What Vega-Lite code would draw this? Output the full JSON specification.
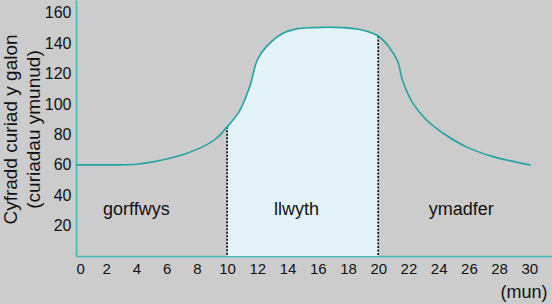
{
  "$schema": "https://vega.github.io/schema/vega-lite/v6.json",
  "width": 476,
  "height": 256,
  "autosize": {"type": "none"},
  "padding": {"left": 76, "top": 0, "right": 0, "bottom": 48},
  "background": "#cccccc",
  "config": {
    "view": {"stroke": null},
    "font": "Liberation Sans"
  },
  "datasets": {
    "curve": [
      {"min": 0, "bpm": 60}, {"min": 2, "bpm": 60}, {"min": 3, "bpm": 60}, {"min": 4, "bpm": 60.4},
      {"min": 5, "bpm": 61.8}, {"min": 6.2, "bpm": 64.3}, {"min": 7.3, "bpm": 67.5}, {"min": 8.4, "bpm": 72},
      {"min": 9.3, "bpm": 77.5}, {"min": 10, "bpm": 85}, {"min": 10.8, "bpm": 95}, {"min": 11.5, "bpm": 111.5},
      {"min": 12, "bpm": 129}, {"min": 12.6, "bpm": 137.8}, {"min": 13.7, "bpm": 146.6}, {"min": 14.6, "bpm": 149.5},
      {"min": 15.6, "bpm": 150.3}, {"min": 17.7, "bpm": 150.3}, {"min": 18.7, "bpm": 149.2}, {"min": 19.4, "bpm": 147.4},
      {"min": 20, "bpm": 144.8}, {"min": 20.7, "bpm": 137.8}, {"min": 21.3, "bpm": 127.9}, {"min": 21.6, "bpm": 115.9},
      {"min": 22.3, "bpm": 100.5}, {"min": 23.2, "bpm": 89.5}, {"min": 24.3, "bpm": 80.8}, {"min": 25.8, "bpm": 72},
      {"min": 27.6, "bpm": 65.4}, {"min": 30.1, "bpm": 59.9}
    ],
    "marks": [
      {"min": 10, "bpm": 85},
      {"min": 20, "bpm": 144.8}
    ],
    "labels": [
      {"min": 4, "bpm": 27, "label": "gorffwys"},
      {"min": 14.6, "bpm": 27, "label": "llwyth"},
      {"min": 25.5, "bpm": 27, "label": "ymadfer"}
    ]
  },
  "encoding": {
    "x": {"field": "min", "type": "quantitative", "scale": {"domain": [0, 31.5], "nice": false, "zero": false},
      "axis": {"values": [0,2,4,6,8,10,12,14,16,18,20,22,24,26,28,30], "labelOverlap": false, "labelSeparation": 0, "domainColor": "#3bb8b8", "domainWidth": 1.5,
        "ticks": false, "grid": false, "labelFontSize": 15, "labelColor": "#111111", "labelPadding": 5,
        "title": "(mun)", "titleFontSize": 18, "titleFontWeight": "normal", "titleColor": "#111111",
        "titleAlign": "right", "titleX": 471, "titleY": 41, "titleBaseline": "alphabetic"}},
    "y": {"field": "bpm", "type": "quantitative", "scale": {"domain": [0, 168.5], "nice": false},
      "axis": {"values": [20,40,60,80,100,120,140,160], "labelOverlap": false, "labelSeparation": 0, "domainColor": "#3bb8b8", "domainWidth": 1.5,
        "ticks": false, "grid": false, "labelFontSize": 16, "labelColor": "#111111", "labelPadding": 5,
        "title": ["Cyfradd curiad y galon", "(curiadau ymunud)"], "titleFontSize": 19, "titleFontWeight": "normal",
        "titleColor": "#111111", "titleLineHeight": 23, "titleAngle": -90, "titleAlign": "center",
        "titleBaseline": "alphabetic", "titleX": -60, "titleY": 129}}
  },
  "layer": [
    {
      "data": {"name": "curve"},
      "transform": [{"filter": "datum.min >= 10 && datum.min <= 20"}],
      "mark": {"type": "area", "interpolate": "catmull-rom", "color": "#e3f3f7"}
    },
    {
      "data": {"name": "marks"},
      "mark": {"type": "rule", "color": "#000000", "strokeWidth": 1.6, "strokeDash": [2, 1.5]},
      "encoding": {
        "y2": {"datum": 0}
      }
    },
    {
      "data": {"name": "curve"},
      "mark": {"type": "line", "interpolate": "catmull-rom", "color": "#22a3a3", "strokeWidth": 1.6}
    },
    {
      "data": {"name": "labels"},
      "mark": {"type": "text", "fontSize": 18, "color": "#111111", "align": "center", "baseline": "alphabetic"},
      "encoding": {
        "text": {"field": "label"}
      }
    }
  ]
}
